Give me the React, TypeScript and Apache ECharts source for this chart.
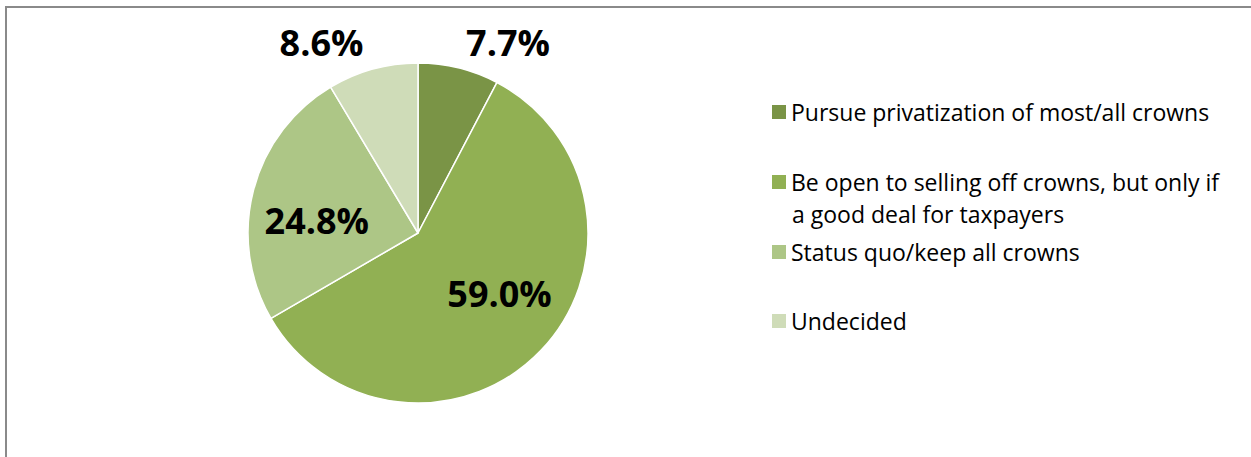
import React, { useEffect, useRef } from "react";
import * as echarts from "echarts";

const categories = [
  "Pursue privatization of most/all crowns",
  "Be open to selling off crowns, but only if a good deal for taxpayers",
  "Status quo/keep all crowns",
  "Undecided",
];
const legendFirstLines = [
  "Pursue privatization of most/all crowns",
  "Be open to selling off crowns, but only if",
  "Status quo/keep all crowns",
  "Undecided",
];
const legendSecondLine = "a good deal for taxpayers";
const values = [7.7, 59.0, 24.8, 8.6];
const colors = ["#7a9446", "#91b053", "#adc686", "#cfdcb8"];
const labelOffsets: [number, number][] = [
  [69, -105],
  [18, 0],
  [-16, 9],
  [-73, -106],
];
const legendTops = [94, 164, 234, 303];

export default function App() {
  const ref = useRef<HTMLDivElement>(null);
  useEffect(() => {
    if (!ref.current) return;
    const chart = echarts.init(ref.current, null, { renderer: "svg" });
    const font = "'Open Sans', sans-serif";
    chart.setOption({
      animation: false,
      backgroundColor: "#ffffff",
      graphic: [
        {
          type: "rect",
          shape: { x: 6, y: 7, width: 1260, height: 470 },
          style: { fill: "none", stroke: "#8a8a8a", lineWidth: 2 },
          silent: true,
        },
        {
          type: "text",
          x: 792,
          y: 214,
          style: {
            text: legendSecondLine,
            fontFamily: font,
            fontSize: 23,
            lineHeight: 26,
            fill: "#000",
            verticalAlign: "middle",
            align: "left",
          },
          silent: true,
        },
      ],
      legend: categories.map((name, i) => ({
        orient: "vertical",
        left: 767,
        top: legendTops[i],
        padding: 5,
        data: [name],
        itemWidth: 14,
        itemHeight: 14,
        icon: "rect",
        selectedMode: false,
        itemStyle: { borderWidth: 0 },
        formatter: () => legendFirstLines[i],
        textStyle: {
          fontFamily: font,
          fontSize: 23,
          color: "#000",
          lineHeight: 26,
        },
      })),
      series: [
        {
          type: "pie",
          center: [418, 233],
          radius: [0, 170],
          startAngle: 90,
          clockwise: true,
          itemStyle: { borderColor: "#ffffff", borderWidth: 1.5 },
          label: {
            show: true,
            position: "inside",
            formatter: (p: any) => p.value.toFixed(1) + "%",
            fontFamily: font,
            fontWeight: "bold",
            fontSize: 36,
            color: "#000",
          },
          labelLine: { show: false },
          emphasis: { disabled: true },
          data: categories.map((name, i) => ({
            name,
            value: values[i],
            itemStyle: { color: colors[i] },
            label: { offset: labelOffsets[i] },
          })),
        },
      ],
    });
    return () => chart.dispose();
  }, []);
  return (
    <div
      ref={ref}
      style={{ position: "absolute", left: 0, top: 0, width: 1251, height: 457 }}
    />
  );
}
